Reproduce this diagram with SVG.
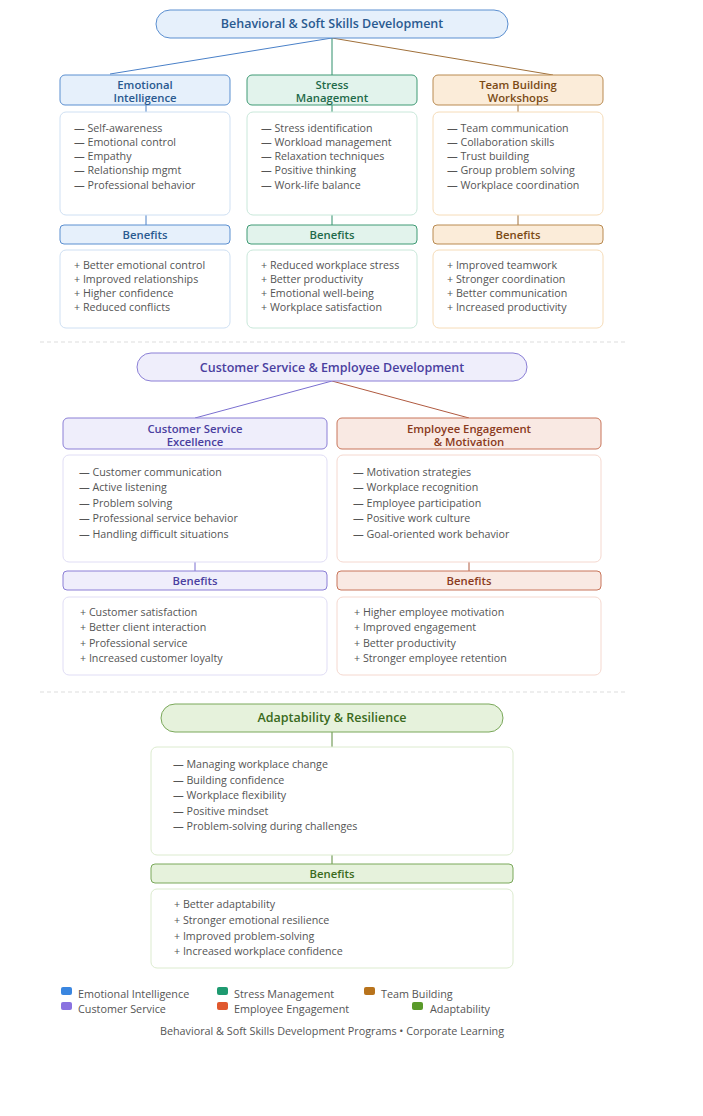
<svg xmlns="http://www.w3.org/2000/svg" width="703" height="1116" viewBox="0 0 703 1116">
<style>
text{font-family:"Open Sans","Noto Sans",sans-serif}
.t{font-size:12.5px;font-weight:600;text-anchor:middle}
.h{font-size:11.3px;font-weight:600;text-anchor:middle}
.i{font-size:10.7px;fill:#555}
.box{fill:#fff;stroke-width:1}
.sep{stroke:#ddd;stroke-dasharray:4 3}
.l{font-size:10.8px;fill:#555}
</style>
<rect width="703" height="1116" fill="#fff"/>
<g id="connectors" fill="none" stroke-width="1">
<line x1="332" y1="38" x2="110" y2="74" stroke="#4a80c8"/>
<line x1="332" y1="38" x2="332" y2="112" stroke="#2f8f6a"/>
<line x1="332" y1="38" x2="553" y2="75" stroke="#a0703a"/>
<line x1="146" y1="75" x2="146" y2="112" stroke="#4a80c8"/>
<line x1="518" y1="75" x2="518" y2="112" stroke="#a0703a"/>
<line x1="146" y1="215" x2="146" y2="225" stroke="#4a80c8"/>
<line x1="332" y1="215" x2="332" y2="225" stroke="#2f8f6a"/>
<line x1="518" y1="215" x2="518" y2="225" stroke="#a0703a"/>
<line x1="332" y1="381" x2="195" y2="418" stroke="#7a6fd0"/>
<line x1="332" y1="381" x2="469" y2="418" stroke="#b05a40"/>
<line x1="195" y1="562" x2="195" y2="571" stroke="#7a6fd0"/>
<line x1="469" y1="562" x2="469" y2="571" stroke="#b05a40"/>
<line x1="332" y1="732" x2="332" y2="747" stroke="#5a8a3a"/>
<line x1="332" y1="855" x2="332" y2="864" stroke="#5a8a3a"/>
<line class="sep" x1="40" y1="342" x2="625" y2="342"/>
<line class="sep" x1="40" y1="692" x2="625" y2="692"/>
</g>
<g id="root1"><rect x="156" y="10" width="352" height="28" rx="14" fill="#e6f0fb" stroke="#5b8fd0"/><text class="t" x="332" y="28" fill="#2a5a90">Behavioral &amp; Soft Skills Development</text></g>
<g id="ei">
<rect x="60" y="75" width="170" height="30" rx="5" fill="#e6f0fb" stroke="#5b8fd0"/><text class="h" x="145" y="89" fill="#2a5a90">Emotional</text><text class="h" x="145" y="102" fill="#2a5a90">Intelligence</text>
<rect class="box" x="60" y="112" width="170" height="103" rx="6" stroke="#cfe0f3"/>
<g class="i"><text x="74" y="132">— Self-awareness</text><text x="74" y="146">— Emotional control</text><text x="74" y="160">— Empathy</text><text x="74" y="174">— Relationship mgmt</text><text x="74" y="189">— Professional behavior</text></g>
<rect x="60" y="225" width="170" height="19" rx="4" fill="#e6f0fb" stroke="#5b8fd0"/><text class="h" x="145" y="239" fill="#2a5a90">Benefits</text>
<rect class="box" x="60" y="250" width="170" height="78" rx="6" stroke="#cfe0f3"/>
<g class="i"><text x="74" y="269">+ Better emotional control</text><text x="74" y="283">+ Improved relationships</text><text x="74" y="297">+ Higher confidence</text><text x="74" y="311">+ Reduced conflicts</text></g>
</g>
<g id="sm">
<rect x="247" y="75" width="170" height="30" rx="5" fill="#e2f3ec" stroke="#3f9a74"/><text class="h" x="332" y="89" fill="#1f6a4a">Stress</text><text class="h" x="332" y="102" fill="#1f6a4a">Management</text>
<rect class="box" x="247" y="112" width="170" height="103" rx="6" stroke="#c9e8da"/>
<g class="i"><text x="261" y="132">— Stress identification</text><text x="261" y="146">— Workload management</text><text x="261" y="160">— Relaxation techniques</text><text x="261" y="174">— Positive thinking</text><text x="261" y="189">— Work-life balance</text></g>
<rect x="247" y="225" width="170" height="19" rx="4" fill="#e2f3ec" stroke="#3f9a74"/><text class="h" x="332" y="239" fill="#1f6a4a">Benefits</text>
<rect class="box" x="247" y="250" width="170" height="78" rx="6" stroke="#c9e8da"/>
<g class="i"><text x="261" y="269">+ Reduced workplace stress</text><text x="261" y="283">+ Better productivity</text><text x="261" y="297">+ Emotional well-being</text><text x="261" y="311">+ Workplace satisfaction</text></g>
</g>
<g id="tb">
<rect x="433" y="75" width="170" height="30" rx="5" fill="#fbecd9" stroke="#b98a50"/><text class="h" x="518" y="89" fill="#7a4a15">Team Building</text><text class="h" x="518" y="102" fill="#7a4a15">Workshops</text>
<rect class="box" x="433" y="112" width="170" height="103" rx="6" stroke="#f6dcb8"/>
<g class="i"><text x="447" y="132">— Team communication</text><text x="447" y="146">— Collaboration skills</text><text x="447" y="160">— Trust building</text><text x="447" y="174">— Group problem solving</text><text x="447" y="189">— Workplace coordination</text></g>
<rect x="433" y="225" width="170" height="19" rx="4" fill="#fbecd9" stroke="#b98a50"/><text class="h" x="518" y="239" fill="#7a4a15">Benefits</text>
<rect class="box" x="433" y="250" width="170" height="78" rx="6" stroke="#f6dcb8"/>
<g class="i"><text x="447" y="269">+ Improved teamwork</text><text x="447" y="283">+ Stronger coordination</text><text x="447" y="297">+ Better communication</text><text x="447" y="311">+ Increased productivity</text></g>
</g>
<g id="root2"><rect x="137" y="353" width="390" height="28" rx="14" fill="#efeefb" stroke="#8b7fd6"/><text class="t" x="332" y="372" fill="#4a3fa0">Customer Service &amp; Employee Development</text></g>
<g id="cs">
<rect x="63" y="418" width="264" height="31" rx="5" fill="#efeefb" stroke="#8b7fd6"/><text class="h" x="195" y="433" fill="#4a3fa0">Customer Service</text><text class="h" x="195" y="446" fill="#4a3fa0">Excellence</text>
<rect class="box" x="63" y="455" width="264" height="107" rx="6" stroke="#e0ddf5"/>
<g class="i"><text x="79" y="476">— Customer communication</text><text x="79" y="491">— Active listening</text><text x="79" y="507">— Problem solving</text><text x="79" y="522">— Professional service behavior</text><text x="79" y="538">— Handling difficult situations</text></g>
<rect x="63" y="571" width="264" height="19" rx="4" fill="#efeefb" stroke="#8b7fd6"/><text class="h" x="195" y="585" fill="#4a3fa0">Benefits</text>
<rect class="box" x="63" y="597" width="264" height="78" rx="6" stroke="#e0ddf5"/>
<g class="i"><text x="80" y="616">+ Customer satisfaction</text><text x="80" y="631">+ Better client interaction</text><text x="80" y="647">+ Professional service</text><text x="80" y="662">+ Increased customer loyalty</text></g>
</g>
<g id="ee">
<rect x="337" y="418" width="264" height="31" rx="5" fill="#f9e9e3" stroke="#c8755a"/><text class="h" x="469" y="433" fill="#8a3a20">Employee Engagement</text><text class="h" x="469" y="446" fill="#8a3a20">&amp; Motivation</text>
<rect class="box" x="337" y="455" width="264" height="107" rx="6" stroke="#f5d8cf"/>
<g class="i"><text x="353" y="476">— Motivation strategies</text><text x="353" y="491">— Workplace recognition</text><text x="353" y="507">— Employee participation</text><text x="353" y="522">— Positive work culture</text><text x="353" y="538">— Goal-oriented work behavior</text></g>
<rect x="337" y="571" width="264" height="19" rx="4" fill="#f9e9e3" stroke="#c8755a"/><text class="h" x="469" y="585" fill="#8a3a20">Benefits</text>
<rect class="box" x="337" y="597" width="264" height="78" rx="6" stroke="#f5d8cf"/>
<g class="i"><text x="354" y="616">+ Higher employee motivation</text><text x="354" y="631">+ Improved engagement</text><text x="354" y="647">+ Better productivity</text><text x="354" y="662">+ Stronger employee retention</text></g>
</g>
<g id="ad">
<rect x="161" y="704" width="342" height="28" rx="14" fill="#e6f2dc" stroke="#7aa85a"/><text class="t" x="332" y="722" fill="#3a6a20">Adaptability &amp; Resilience</text>
<rect class="box" x="151" y="747" width="362" height="108" rx="6" stroke="#dcebcf"/>
<g class="i"><text x="173" y="768">— Managing workplace change</text><text x="173" y="784">— Building confidence</text><text x="173" y="799">— Workplace flexibility</text><text x="173" y="815">— Positive mindset</text><text x="173" y="830">— Problem-solving during challenges</text></g>
<rect x="151" y="864" width="362" height="19" rx="4" fill="#e6f2dc" stroke="#7aa85a"/><text class="h" x="332" y="878" fill="#3a6a20">Benefits</text>
<rect class="box" x="151" y="889" width="362" height="79" rx="6" stroke="#dcebcf"/>
<g class="i"><text x="174" y="908">+ Better adaptability</text><text x="174" y="924">+ Stronger emotional resilience</text><text x="174" y="940">+ Improved problem-solving</text><text x="174" y="955">+ Increased workplace confidence</text></g>
</g>
<g id="legend">
<rect x="61" y="987" width="11" height="8" rx="2" fill="#3a86e0"/><text class="l" x="78" y="998">Emotional Intelligence</text>
<rect x="217" y="987" width="11" height="8" rx="2" fill="#1e9a70"/><text class="l" x="234" y="998">Stress Management</text>
<rect x="364" y="987" width="11" height="8" rx="2" fill="#b8731c"/><text class="l" x="381" y="998">Team Building</text>
<rect x="61" y="1002" width="11" height="8" rx="2" fill="#8a72e0"/><text class="l" x="78" y="1013">Customer Service</text>
<rect x="217" y="1002" width="11" height="8" rx="2" fill="#e0582e"/><text class="l" x="234" y="1013">Employee Engagement</text>
<rect x="412" y="1002" width="11" height="8" rx="2" fill="#5a9a2a"/><text class="l" x="430" y="1013">Adaptability</text>
<text class="l" x="332" y="1035" text-anchor="middle">Behavioral &amp; Soft Skills Development Programs • Corporate Learning</text>
</g>
</svg>
